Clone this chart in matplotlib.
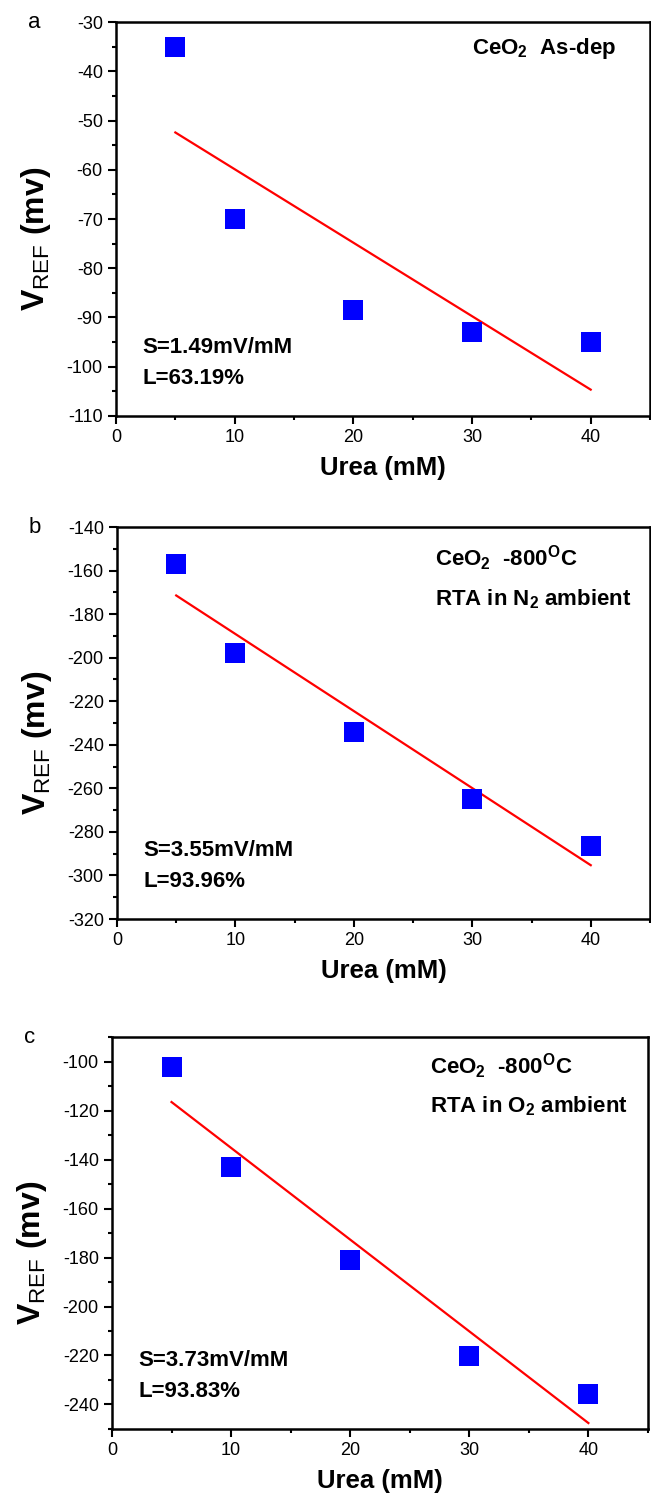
import numpy as np
import matplotlib
matplotlib.use('Agg')
import matplotlib.pyplot as plt
from matplotlib.ticker import MultipleLocator

plt.rcParams.update({
    'font.family': 'Liberation Sans',
    'axes.unicode_minus': False,
    'mathtext.fontset': 'custom',
    'mathtext.rm': 'Liberation Sans',
    'mathtext.bf': 'Liberation Sans:bold',
    'mathtext.it': 'Liberation Sans:italic',
})

urea = [5, 10, 20, 30, 40]

# V_REF readings (mV) for each CeO2 film
vref_asdep = [-35, -70, -88.5, -93, -95]
vref_n2 = [-157, -198, -234, -264.7, -286.5]
vref_o2 = [-102.4, -142.9, -181, -220.1, -235.8]

panel_tags = ['a', 'b', 'c']
cond_text = [
    r'CeO$_\mathbf{2}$  As-dep',
    'CeO$_\\mathbf{2}$  -800$^\\mathbf{O}$C\nRTA in N$_\\mathbf{2}$ ambient',
    'CeO$_\\mathbf{2}$  -800$^\\mathbf{O}$C\nRTA in O$_\\mathbf{2}$ ambient',
]
sens_text = ['S=1.49mV/mM\nL=63.19%', 'S=3.55mV/mM\nL=93.96%', 'S=3.73mV/mM\nL=93.83%']
ylims = [(-110, -30), (-320, -140), (-250, -90)]
ysteps = [10, 20, 20]

fig = plt.figure(figsize=(6.51, 14.99), dpi=100)
rects = [
    [0.1782, 0.7225, 0.8203, 0.2628],
    [0.1797, 0.3869, 0.8187, 0.2615],
    [0.1720, 0.0467, 0.8233, 0.2615],
]
cond_pos = [(0.667, 0.934), (0.596, 0.872), (0.593, 0.879)]

for i, vals in enumerate([vref_asdep, vref_n2, vref_o2]):
    ax = fig.add_axes(rects[i])
    x = np.array(urea, dtype=float)
    y = np.array(vals)
    k, b = np.polyfit(x, y, 1)

    ax.plot(x, y, 's', color='#0000ff', ms=15, mew=0, zorder=3)
    xx = np.array([x.min(), x.max()])
    ax.plot(xx, k * xx + b, color='red', lw=1.6, zorder=2)

    ax.set_xlim(0, 45)
    ax.set_ylim(*ylims[i])
    ax.xaxis.set_major_locator(MultipleLocator(10))
    ax.xaxis.set_minor_locator(MultipleLocator(5))
    ax.yaxis.set_major_locator(MultipleLocator(ysteps[i]))
    ax.yaxis.set_minor_locator(MultipleLocator(ysteps[i] / 2))
    ax.tick_params(which='both', direction='out', width=1.5, labelsize=13,
                   top=False, right=False)
    ax.tick_params(which='major', length=6)
    ax.tick_params(which='minor', length=3)
    for sp in ax.spines.values():
        sp.set_linewidth(1.8)

    ax.set_xlabel('Urea (mM)', fontsize=18.5, fontweight='bold', labelpad=7)
    ax.set_ylabel(r'$\mathbf{V}_{\mathrm{REF}}$ (mv)', fontsize=23,
                  fontweight='bold')
    ax.yaxis.set_label_coords(-0.118, 0.45)

    ax.text(*cond_pos[i], cond_text[i], transform=ax.transAxes, fontsize=16,
            fontweight='bold', va='center', ha='left', linespacing=1.75)
    ax.text(0.05, 0.135, sens_text[i], transform=ax.transAxes, fontsize=16,
            fontweight='bold', va='center', ha='left', linespacing=1.6)

    ax.text(-0.165, 1.0, panel_tags[i], transform=ax.transAxes, fontsize=16,
            va='center', ha='left')

fig.savefig('out.png', dpi=100)
